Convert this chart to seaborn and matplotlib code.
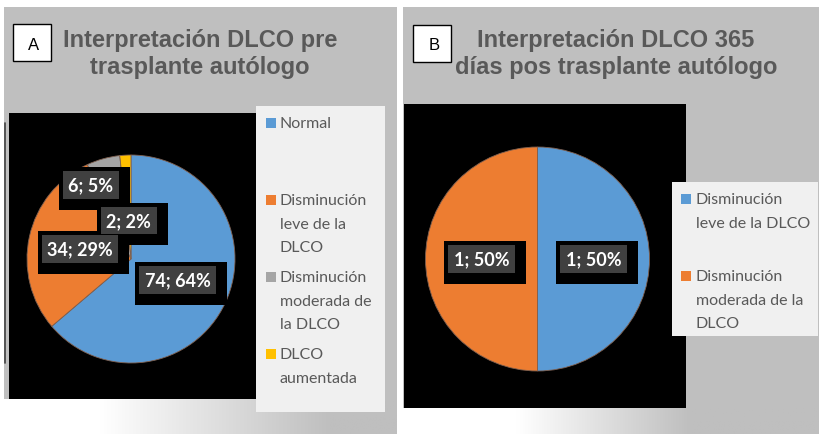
import numpy as np
import matplotlib
matplotlib.use("Agg")
import matplotlib.pyplot as plt
import seaborn as sns
from matplotlib.patches import Rectangle

# Panel A: DLCO before autologous transplant
labels_a = ["Normal", "Disminución\nleve de la\nDLCO", "Disminución\nmoderada de\nla DLCO", "DLCO\naumentada"]
counts_a = [74, 34, 6, 2]
colors_a = ["#5b9bd5", "#ed7d31", "#a5a5a5", "#ffc000"]
title_a = "Interpretación DLCO pre\ntrasplante autólogo"

# Panel B: DLCO 365 days after
labels_b = ["Disminución\nleve de la DLCO", "Disminución\nmoderada de la\nDLCO"]
counts_b = [1, 1]
colors_b = ["#5b9bd5", "#ed7d31"]
title_b = "Interpretación DLCO 365\ndías pos trasplante autólogo"

W, H = 820, 435
sns.set_theme(style="white")
plt.rcParams["font.family"] = ["Lato", "DejaVu Sans"]

fig = plt.figure(figsize=(W / 100, H / 100), dpi=100)
fig.patch.set_facecolor("white")

# pixel-space background axes
bg = fig.add_axes([0, 0, 1, 1])
bg.set_xlim(0, W)
bg.set_ylim(H, 0)
bg.axis("off")


def px_rect(x0, y0, x1, y1):
    return [x0 / W, 1 - y1 / H, (x1 - x0) / W, (y1 - y0) / H]


def gradient(x0, x1, y0, y1, g0, g1):
    cols = np.ones((1, 256, 3))
    ramp = np.clip((np.linspace(x0, x1, 256) - g0) / (g1 - g0), 0, 1)
    cols[0, :, :] = (1 - ramp[:, None]) * 1.0 + ramp[:, None] * (191 / 255)
    bg.imshow(cols, extent=[x0, x1, y1, y0], aspect="auto", zorder=1)


def panel(x0, x1, black, legend_box, grad_y, grad_range, tag_xy, tag, title, title_x):
    bg.add_patch(Rectangle((x0, 8), x1 - x0, H - 8, fc="#bfbfbf", ec="none", zorder=0))
    gradient(x0, x1, grad_y, H, *grad_range)
    bx0, by0, bx1, by1 = black
    bg.add_patch(Rectangle((bx0, by0), bx1 - bx0, by1 - by0, fc="black", ec="none", zorder=2))
    lx0, ly0, lx1, ly1 = legend_box
    bg.add_patch(Rectangle((lx0, ly0), lx1 - lx0, ly1 - ly0, fc="#f0f0f0", ec="none", zorder=3))
    tx, ty = tag_xy
    bg.add_patch(Rectangle((tx, ty), 38, 37, fc="white", ec="black", lw=1, zorder=3))
    bg.text(tx + 21, ty + 20, tag, ha="center", va="center", fontsize=12,
            family="Liberation Sans", color="black", zorder=4)
    bg.text(title_x, 28.5, title, ha="center", va="top", fontsize=17, weight="bold",
            family="Liberation Sans", color="#595959", linespacing=1.25, zorder=4)


def draw_legend(labels, colors, sq_x, txt_x, y_first, step=77):
    for i, (lab, col) in enumerate(zip(labels, colors)):
        y = y_first + i * step
        bg.add_patch(Rectangle((sq_x - 5, y - 5), 10, 10, fc=col, ec="none", zorder=5))
        bg.text(txt_x, y - 6.5, lab, ha="left", va="top", fontsize=11.5,
                color="#595959", linespacing=1.85, zorder=5)


pie_labels = []


def draw_pie(counts, colors, cx, cy, r, label_r, nudge):
    ax = fig.add_axes(px_rect(cx - r, cy - r, cx + r, cy + r))
    wedges, _ = ax.pie(counts, colors=colors, startangle=90, counterclock=False,
                       wedgeprops=dict(linewidth=0.6, edgecolor="#7f6050"))
    ax.set_xlim(-1, 1)
    ax.set_ylim(-1, 1)
    ax.set_facecolor("none")
    ax.axis("off")
    total = sum(counts)
    for w, c, lr, dn in zip(wedges, counts, label_r, nudge):
        ang = np.deg2rad((w.theta1 + w.theta2) / 2 + dn)
        x, y = lr * np.cos(ang), lr * np.sin(ang)
        s = f"{c}; {round(100 * c / total)}%"
        t = ax.text(x, y, s, ha="center", va="center", fontsize=13, weight="bold",
                    color="white", zorder=6,
                    bbox=dict(boxstyle="square,pad=0.3", fc="#404040", ec="none"))
        pie_labels.append(t)
    return ax


panel(4, 397, (9, 114, 256, 400), (256, 107, 385, 413), 400, (100, 330),
      (13, 25), "A", title_a, 200)
panel(403, 820, (404, 105, 686, 409), (672, 183, 818, 337), 409, (517, 690),
      (413, 26), "B", title_b, 616)
bg.plot([5, 5], [124, 364], color="#404040", lw=1.2, zorder=2)

draw_legend(labels_a, colors_a, 271.5, 280, 124)
draw_legend(labels_b, colors_b, 686, 696, 200)

draw_pie(counts_a, colors_a, 131, 260, 104, [0.49, 0.50, 0.81, 0.37], [1, 1, 13, 0])
draw_pie(counts_b, colors_b, 537.5, 260, 112, [0.50, 0.50], [0, 0])

# black "shadow" frame behind each data label (Excel style)
fig.canvas.draw()
for t in pie_labels:
    ext = t.get_bbox_patch().get_window_extent()
    x0, x1 = ext.x0, ext.x1
    y0, y1 = H - ext.y1, H - ext.y0
    t.axes.add_patch(Rectangle((x0 - 4, y0 - 4), (x1 - x0) + 15, (y1 - y0) + 15,
                               transform=bg.transData, fc="black", ec="none",
                               zorder=5, clip_on=False))

fig.savefig("out.png", dpi=100)
